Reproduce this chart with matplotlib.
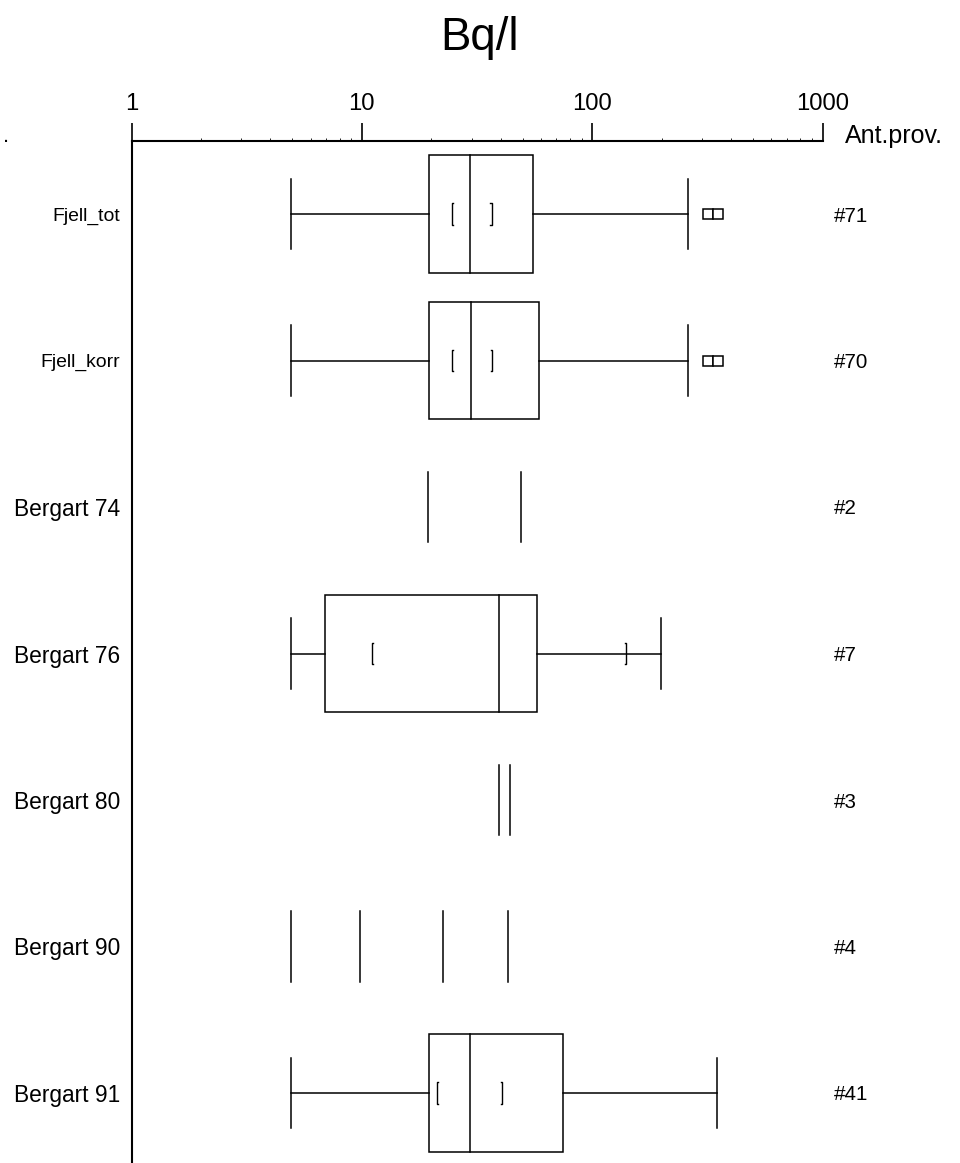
import matplotlib
matplotlib.use("Agg")
import matplotlib.pyplot as plt
from matplotlib import font_manager
from matplotlib.patches import Rectangle
from matplotlib.transforms import blended_transform_factory

# ---------------- data ----------------
groups = ['Fjell_tot', 'Fjell_korr', 'Bergart 74', 'Bergart 76',
          'Bergart 80', 'Bergart 90', 'Bergart 91']
counts = [71, 70, 2, 7, 3, 4, 41]

# box statistics (None = no box, only raw values drawn)
q1 = [19.6, 19.6, None, 6.95, None, None, 19.5]
med = [29.4, 29.9, None, 39.3, None, None, 29.4]
q3 = [55.4, 58.8, None, 57.6, None, None, 75.0]
whislo = [4.95, 4.95, None, 4.95, None, None, 4.95]
whishi = [261, 261, None, 199, None, None, 350]
ci_lo = [24.6, 24.6, None, 11.05, None, None, 21.1]
ci_hi = [36.6, 36.9, None, 140.6, None, None, 40.5]
outliers = [[318.6, 352], [318.6, 352], [], [], [], [], []]

# raw values for small groups
raw_values = [[], [], [19.4, 49.0], [], [39.3, 44.1], [4.95, 9.8, 22.5, 43.1], []]

x_ticks = [1, 10, 100, 1000]
x_ticklabels = ['1', '10', '100', '1000']

# ---------------- fonts ----------------
def pick_font():
    for name in ['Liberation Sans Narrow', 'Nimbus Sans Narrow', 'Liberation Sans', 'DejaVu Sans']:
        try:
            font_manager.findfont(name, fallback_to_default=False)
            return name
        except Exception:
            continue
    return 'DejaVu Sans'

FONT = pick_font()
NARROW = 'Narrow' in FONT
plt.rcParams['font.family'] = [FONT, 'DejaVu Sans']
k = 1.0 if NARROW else 0.82   # shrink wide fonts so widths match

W, H = 960, 1163
fig = plt.figure(figsize=(W / 100, H / 100), dpi=100)

ax_left, ax_right = 131.5, 822.5
ax_top = 141.0
ax = fig.add_axes([ax_left / W, 0.0, (ax_right - ax_left) / W, 1 - ax_top / H])

row0, step = 214.0, 146.5
ax.set_xscale('log')
ax.set_xlim(1, 1000)
ax.set_ylim((H - row0) / step, (ax_top - row0) / step)

# spines
for s in ['right', 'bottom']:
    ax.spines[s].set_visible(False)
ax.spines['top'].set_linewidth(1.5)
ax.spines['left'].set_linewidth(1.5)

ax.xaxis.tick_top()
ax.set_xticks(x_ticks)
ax.set_xticklabels(x_ticklabels)
ax.tick_params(axis='x', which='major', direction='out', length=13, width=1.2,
               pad=6, labelsize=21 * k)
ax.tick_params(axis='x', which='minor', direction='out', length=2, width=0.6)

ys = list(range(len(groups)))
ax.set_yticks(ys)
ax.set_yticklabels(groups)
ax.tick_params(axis='y', length=0, pad=8)
for i, lab in enumerate(ax.get_yticklabels()):
    lab.set_fontsize((17 if groups[i].startswith('Fjell') else 20) * k)

lw = 1.1
box_h = 0.40
cap_h = 0.24
br_h = 0.075

for i in ys:
    if q1[i] is not None:
        ax.add_patch(Rectangle((q1[i], i - box_h), q3[i] - q1[i], 2 * box_h,
                               fill=False, edgecolor='black', lw=lw, zorder=3))
        ax.plot([med[i], med[i]], [i - box_h, i + box_h], color='black', lw=lw)
        ax.plot([whislo[i], q1[i]], [i, i], color='black', lw=lw)
        ax.plot([q3[i], whishi[i]], [i, i], color='black', lw=lw)
        ax.plot([whislo[i], whislo[i]], [i - cap_h, i + cap_h], color='black', lw=lw)
        ax.plot([whishi[i], whishi[i]], [i - cap_h, i + cap_h], color='black', lw=lw)
        # confidence brackets
        for v, d in [(ci_lo[i], 1.012), (ci_hi[i], 1 / 1.012)]:
            ax.plot([v * d, v, v, v * d], [i - br_h, i - br_h, i + br_h, i + br_h],
                    color='black', lw=1.0)
        for o in outliers[i]:
            ax.plot([o], [i], marker='s', markersize=7.5, markerfacecolor='white',
                    markeredgecolor='black', markeredgewidth=1.1, linestyle='none')
    for v in raw_values[i]:
        ax.plot([v, v], [i - cap_h, i + cap_h], color='black', lw=lw)

trans = blended_transform_factory(ax.transAxes, ax.transData)
for i in ys:
    ax.text((834 - ax_left) / (ax_right - ax_left), i, f'#{counts[i]}', transform=trans,
            ha='left', va='center_baseline', fontsize=18 * k)

fig.text(0.499, 1 - 50 / H, 'Bq/l', ha='center', va='baseline', fontsize=40 * k)
fig.text(845 / W, 1 - 143 / H, 'Ant.prov.', ha='left', va='baseline', fontsize=22 * k)
fig.text(3 / W, 1 - 142 / H, '.', ha='left', va='baseline', fontsize=16)

fig.savefig('out.png', dpi=100)
